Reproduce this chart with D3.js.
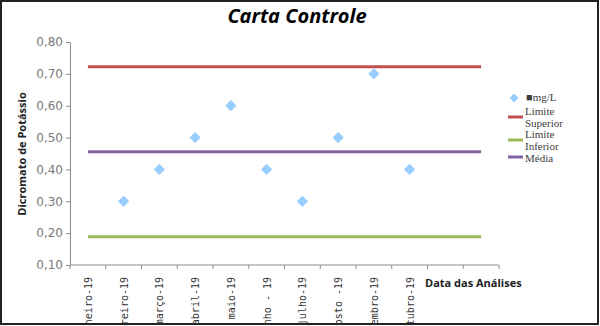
<!DOCTYPE html>
<html><head><meta charset="utf-8">
<script src="https://cdn.jsdelivr.net/npm/d3@7"></script>
<style>body{margin:0;background:#fff}svg{display:block}</style>
</head><body>
<svg id="c" width="600" height="326"></svg>
<script>
const categories = ["janeiro-19","fevereiro-19","março-19","abril-19","maio-19","junho - 19","julho-19","agosto -19","setembro-19","outubro-19","",""];
const values = [null,0.30,0.40,0.50,0.60,0.40,0.30,0.50,0.70,0.40,null,null];
const limiteSuperior = [0.7226,0.7226,0.7226,0.7226,0.7226,0.7226,0.7226,0.7226,0.7226,0.7226,0.7226,0.7226];
const limiteInferior = [0.1886,0.1886,0.1886,0.1886,0.1886,0.1886,0.1886,0.1886,0.1886,0.1886,0.1886,0.1886];
const media = [0.4556,0.4556,0.4556,0.4556,0.4556,0.4556,0.4556,0.4556,0.4556,0.4556,0.4556,0.4556];
const yTicks = [0.10,0.20,0.30,0.40,0.50,0.60,0.70,0.80];
const legendLabels = ["\u25A0mg/L", "Limite Superior", "Limite Inferior", "Média"];

const svg = d3.select("#c");
svg.append("rect").attr("x",1).attr("y",1).attr("width",597).attr("height",323)
  .attr("fill","#fff").attr("stroke","#222").attr("stroke-width",2);

const x = d3.scaleBand().domain(d3.range(categories.length)).range([70,499]).paddingInner(0).paddingOuter(0);
const y = d3.scaleLinear().domain([0.10,0.80]).range([265,42]);
const cx = i => x(i) + x.bandwidth()/2;

// title
svg.append("text").attr("x",297).attr("y",23).attr("text-anchor","middle")
  .attr("font-family","Open Sans, sans-serif").attr("font-weight","bold").attr("font-style","italic")
  .attr("font-size",20).attr("fill","#000").text("Carta Controle");

// y axis
const ya = svg.append("g").attr("transform","translate(70,0)")
  .call(d3.axisLeft(y).tickValues(yTicks).tickSize(4).tickPadding(3).tickFormat(d => d3.format(".2f")(d).replace(".",",")));
ya.select(".domain").attr("stroke","#8c8c8c");
ya.selectAll(".tick line").attr("stroke","#8c8c8c");
ya.selectAll(".tick text").attr("font-family","DejaVu Sans, sans-serif").attr("font-size",12).attr("fill","#7a7a7a");

// x axis
const xa = svg.append("g").attr("transform","translate(0,265)");
xa.append("line").attr("x1",70).attr("x2",499).attr("y1",0).attr("y2",0).attr("stroke","#8c8c8c");
const tickPos = d3.range(categories.length+1).map(i => i < categories.length ? x(i) : x(categories.length-1)+x.bandwidth());
xa.selectAll("line.t").data(tickPos).join("line").attr("class","t")
  .attr("x1",d=>d).attr("x2",d=>d).attr("y1",0).attr("y2",4).attr("stroke","#8c8c8c");
xa.selectAll("text.lab").data(categories).join("text").attr("class","lab")
  .attr("transform",(d,i)=>`translate(${cx(i)+4},${12}) rotate(-90)`)
  .attr("text-anchor","end").attr("font-family","DejaVu Sans Mono, monospace").attr("font-size",10)
  .attr("fill","#333").text(d=>d);

// axis titles
svg.append("text").attr("transform","translate(26,154) rotate(-90)").attr("text-anchor","middle")
  .attr("font-family","Open Sans, sans-serif").attr("font-weight","bold").attr("font-size",11).attr("fill","#222")
  .text("Dicromato de Potássio");
svg.append("text").attr("x",425).attr("y",287)
  .attr("font-family","Open Sans, sans-serif").attr("font-weight","bold").attr("font-size",11).attr("fill","#222")
  .text("Data das Análises");

// lines
const line = d3.line().x((d,i)=>cx(i)).y(d=>y(d));
[[limiteSuperior,"#c0504d"],[limiteInferior,"#9bbb59"],[media,"#8064a2"]].forEach(([arr,col])=>{
  svg.append("path").attr("d",line(arr)).attr("fill","none").attr("stroke",col).attr("stroke-width",3);
});

// points
const diamond = d3.symbol().type(d3.symbolDiamond2).size(80);
svg.selectAll("path.pt").data(values.map((v,i)=>({v,i})).filter(d=>d.v!==null)).join("path").attr("class","pt")
  .attr("d",diamond).attr("transform",d=>`translate(${cx(d.i)},${y(d.v)})`)
  .attr("fill","#99ccff");

// legend
const lg = svg.append("g").attr("font-family","Liberation Serif, serif").attr("font-size",11).attr("fill","#404040");
lg.append("path").attr("d",d3.symbol().type(d3.symbolDiamond2).size(50)).attr("transform","translate(514,98)").attr("fill","#99ccff");
lg.append("text").attr("x",526).attr("y",101).text(legendLabels[0]);
const items = [[legendLabels[1],"#c0504d",117],[legendLabels[2],"#9bbb59",140],[legendLabels[3],"#8064a2",157]];
items.forEach(([lab,col,ly])=>{
  lg.append("line").attr("x1",508).attr("x2",523).attr("y1",ly).attr("y2",ly).attr("stroke",col).attr("stroke-width",3);
  const parts = lab.split(" ");
  if (parts.length === 2) {
    lg.append("text").attr("x",525).attr("y",ly-2).text(parts[0]);
    lg.append("text").attr("x",525).attr("y",ly+10).text(parts[1]);
  } else {
    lg.append("text").attr("x",525).attr("y",ly+5).text(parts[0]);
  }
});
</script>
</body></html>
